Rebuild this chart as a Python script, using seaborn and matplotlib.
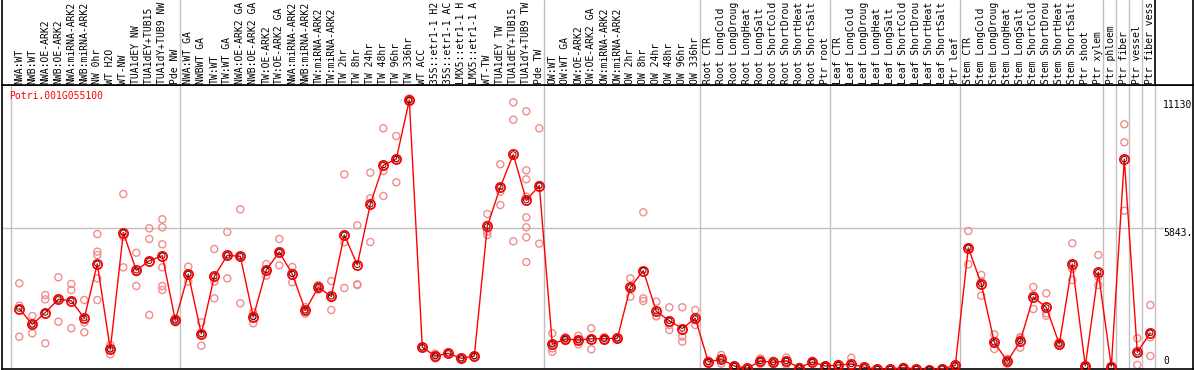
import matplotlib
matplotlib.use('Agg')
import matplotlib.pyplot as plt
import matplotlib.transforms as mtransforms
import seaborn as sns
import pandas as pd

# Sample names (header columns, left to right)
samples = [
    "NWA:WT", "NWB:WT", "NWA:OE-ARK2", "NWB:OE-ARK2", "NWA:miRNA-ARK2", "NWB:miRNA-ARK2",
    "NW 0hr", "WT H2O", "WT-NW", "TUA1dEY NW", "TUA1dEY+TUB15 NW", "TUA1dY+TUB9 NW", "Pde NW",
    "NWA:WT GA", "NWBWT GA", "TW:WT", "TW:WT GA", "NWA:OE-ARK2 GA", "NWB:OE-ARK2 GA",
    "TW:OE-ARK2", "TW:OE-ARK2 GA", "NWA:miRNA-ARK2", "NWB:miRNA-ARK2", "TW:miRNA-ARK2",
    "TW:miRNA-ARK2", "TW 2hr", "TW 8hr", "TW 24hr", "TW 48hr", "TW 96hr", "TW 336hr",
    "WT ACC", "35S::etr1-1 H2O", "35S::etr1-1 ACC", "LMX5::etr1-1 H2O", "LMX5::etr1-1 ACC",
    "WT-TW", "TUA1dEY TW", "TUA1dEY+TUB15 TW", "TUA1dY+TUB9 TW", "Pde TW",
    "OW:WT", "OW:WT GA", "OW:OE-ARK2", "OW:OE-ARK2 GA", "OW:miRNA-ARK2", "OW:miRNA-ARK2",
    "OW 2hr", "OW 8hr", "OW 24hr", "OW 48hr", "OW 96hr", "OW 336hr",
    "Root CTR", "Root LongCold", "Root LongDrought", "Root LongHeat", "Root LongSalt",
    "Root ShortCold", "Root ShortDrought", "Root ShortHeat", "Root ShortSalt", "Ptr root",
    "Leaf CTR", "Leaf LongCold", "Leaf LongDrought", "Leaf LongHeat", "Leaf LongSalt",
    "Leaf ShortCold", "Leaf ShortDrought", "Leaf ShortHeat", "Leaf ShortSalt", "Ptr leaf",
    "Stem CTR", "Stem LongCold", "Stem LongDrought", "Stem LongHeat", "Stem LongSalt",
    "Stem ShortCold", "Stem ShortDrought", "Stem ShortHeat", "Stem ShortSalt", "Ptr shoot",
    "Ptr xylem", "Ptr phloem", "Ptr fiber", "Ptr vessel", "Ptr fiber vessel",
]

# Replicate expression values, one list per sample
replicates = [
    [3575, 2652, 1373], [2227, 1897, 1513], [3093, 2914, 1100], [3823, 2926, 1993],
    [3546, 3299, 1720], [2887, 1966, 1554], [5608, 4880, 4742, 3780, 2887], [1031, 880, 646],
    [7258, 5498, 4234], [4838, 4028, 3464], [5843, 5402, 2268],
    [6214, 5884, 5183, 4234, 3464, 3299], [2131, 2050, 1966],
    [4261, 3975, 3641], [1966, 1486, 1003], [4990, 3641, 2956], [5691, 4713, 3780],
    [6627, 4684, 2750], [2379, 2253, 1926], [4371, 4112, 3889], [5402, 4879, 4317],
    [4247, 4014, 3616], [2597, 2460, 2323], [3500, 3409, 3318], [3670, 2970, 2474],
    [8070, 5266, 3381], [5967, 3534, 3505], [8138, 7080, 5278], [9967, 8206, 7175],
    [9649, 8714, 7740], [11200, 11130, 11060], [950, 935, 920], [672, 577, 481],
    [700, 687, 674], [520, 481, 440], [600, 577, 555], [6433, 5990, 5704, 5567],
    [8483, 7354, 6804], [11038, 10322, 5307],
    [10668, 8234, 7863, 7147, 6296, 5884, 5471, 4453], [9967, 7629, 5210],
    [1513, 1100, 893, 756], [1350, 1278, 1210], [1415, 1237, 1058], [1718, 1305, 853],
    [1350, 1292, 1235], [1350, 1306, 1260], [3780, 3423, 3024], [6503, 2956, 2845],
    [2817, 2227, 2213], [2585, 1856, 1649], [2585, 1375, 1168], [2474, 2063, 1856],
    [380, 335, 290], [619, 440, 261], [200, 165, 130], [100, 69, 40], [480, 371, 260],
    [380, 316, 250], [515, 371, 230], [130, 96, 60], [380, 330, 280], [200, 165, 130],
    [250, 206, 160], [507, 150, 85], [140, 110, 80], [60, 41, 20], [60, 41, 20],
    [130, 96, 60], [60, 41, 20], [25, 14, 5], [75, 55, 35], [230, 190, 150],
    [5732, 5031, 4357], [3918, 3656, 3064], [1472, 1085, 866], [450, 357, 260],
    [1360, 1307, 920], [3423, 3092, 2515], [3163, 2339, 2239], [1150, 1072, 994],
    [5225, 4177, 3711], [200, 165, 130], [4742, 3847, 3505],
    [180, 137, 95], [10132, 9390, 6569], [1307, 674, 206], [2680, 1348, 577],
]

# first sample index of each block (grey separators)
group_breaks = [13, 41, 53, 63, 73, 84, 85, 86, 87]
n_samples = len(samples)
label_chars = 14  # the header only has room for this many characters

gene_id = "Potri.001G055100"
y_ticks = [0, 5843, 11130]
y_tick_labels = ["0", "5843.", "11130"]

sns.set_style('white')
plt.rcParams['font.family'] = ['DejaVu Sans Mono']
plt.rcParams['font.size'] = 7.0

rows = [(i, samples[i], v) for i, reps in enumerate(replicates) for v in reps]
df = pd.DataFrame(rows, columns=['idx', 'sample', 'value'])
means = df.groupby('idx', as_index=False)['value'].mean()

W, H = 1194, 370
fig = plt.figure(figsize=(W / 100, H / 100), dpi=100)
x0, x1 = 2 / W, 1193 / W
ax = fig.add_axes([x0, 1 / H, x1 - x0, (369 - 85) / H])
hdr = fig.add_axes([x0, (370 - 85) / H, x1 - x0, 85 / H])

xlim = ((2 - 19.3) / 13, (1193 - 19.3) / 13)
sep_off = 0.62

# --- plot area ---
for k in [0] + group_breaks + [n_samples]:
    ax.axvline(k - sep_off, color='#c0c0c0', lw=1, zorder=0)
ax.axhline(y_ticks[1], xmax=0.975, color='#c0c0c0', lw=1, zorder=0)

sns.scatterplot(data=df, x='idx', y='value', ax=ax, marker='o', s=26,
                facecolors='none', edgecolor='#f08c8c', linewidth=1, zorder=2)
sns.lineplot(data=means, x='idx', y='value', ax=ax, color='#ff0000', lw=1.0,
             marker='o', ms=6.6, mfc='none', mec='#ff0000', mew=1.3, zorder=3)
sns.scatterplot(data=means, x='idx', y='value', ax=ax, marker='o', s=15,
                facecolors='none', edgecolor='#200000', linewidth=0.6, zorder=4)

ax.set_xlim(*xlim)
ax.set_ylim((370 - 369) / 0.02425, (370 - 85) / 0.02425)
ax.set_xticks([])
ax.set_yticks([])
ax.set_xlabel('')
ax.set_ylabel('')
for side in ['left', 'right', 'bottom', 'top']:
    ax.spines[side].set_color('black')
    ax.spines[side].set_linewidth(1.2)

trans = mtransforms.blended_transform_factory(ax.transAxes, ax.transData)
ax.text(0.9748, y_ticks[2], y_tick_labels[2], transform=trans, ha='left', va='top', color='black')
ax.text(0.9748, y_ticks[1], y_tick_labels[1], transform=trans, ha='left', va='top', color='black')
ax.text(0.9748, 0.012, y_tick_labels[0], transform=ax.transAxes, ha='left', va='bottom', color='black')

ax.text(0.0061, 0.978, gene_id, transform=ax.transAxes, ha='left', va='top', color='#ff0000')

# --- header with sample names ---
hdr.set_xlim(*xlim)
hdr.set_ylim(0, 1)
hdr.set_xticks([])
hdr.set_yticks([])
for k in group_breaks:
    hdr.axvline(k - sep_off, color='#c0c0c0', lw=1, zorder=0)
hdr.axvline(n_samples - sep_off, color='black', lw=1.2, zorder=1)
hdr.spines['top'].set_visible(False)
for side in ['left', 'right', 'bottom']:
    hdr.spines[side].set_color('black')
    hdr.spines[side].set_linewidth(1.2)

htrans = mtransforms.blended_transform_factory(hdr.transData, hdr.transAxes)
for i, name in enumerate(samples):
    hdr.text(i, 0.015, name[:label_chars], transform=htrans, rotation=90,
             ha='center', va='bottom', color='black')

fig.savefig('out.png', dpi=100)
